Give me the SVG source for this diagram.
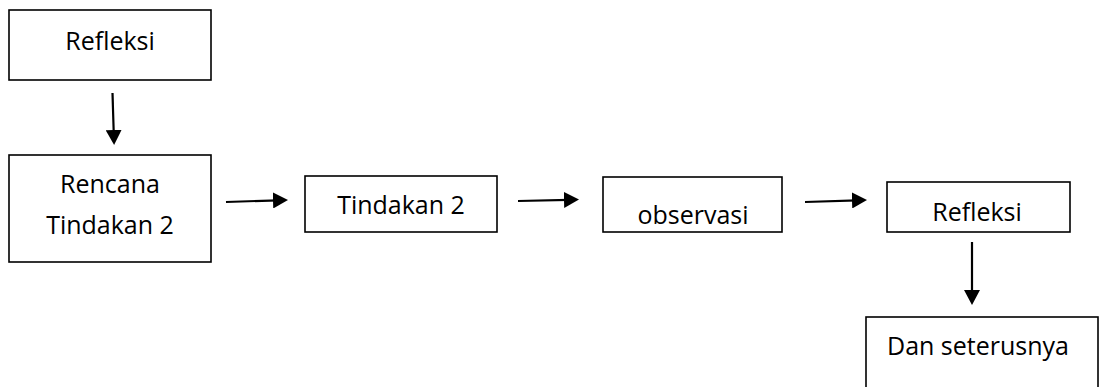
<svg xmlns="http://www.w3.org/2000/svg" width="1101" height="387" viewBox="0 0 1101 387">
<style>
.box{fill:#fff;stroke:#000;stroke-width:1.6}
.lbl{font-family:"Open Sans","Liberation Sans",sans-serif;font-size:25px;fill:#000;text-anchor:middle}
.conn{stroke:#000;stroke-width:2.2;fill:none;marker-end:url(#ah)}
</style>
<defs>
<marker id="ah" markerUnits="userSpaceOnUse" markerWidth="16" markerHeight="16" refX="5" refY="8" orient="auto" viewBox="0 0 16 16">
<path d="M0,0 L15,8 L0,16 Z" fill="#000"/>
</marker>
</defs>
<rect x="0" y="0" width="1101" height="387" fill="#fff"/>
<g id="node-refleksi1">
<rect class="box" x="9" y="10" width="202" height="70"/>
<text class="lbl" x="110" y="50">Refleksi</text>
</g>
<g id="node-rencana">
<rect class="box" x="9" y="155" width="202" height="107"/>
<text class="lbl" x="110" y="193">Rencana</text>
<text class="lbl" x="110" y="234">Tindakan 2</text>
</g>
<g id="node-tindakan">
<rect class="box" x="305" y="176" width="192" height="56"/>
<text class="lbl" x="401" y="214">Tindakan 2</text>
</g>
<g id="node-observasi">
<rect class="box" x="603" y="177" width="179" height="55"/>
<text class="lbl" x="693" y="224">observasi</text>
</g>
<g id="node-refleksi2">
<rect class="box" x="887" y="182" width="183" height="50"/>
<text class="lbl" x="977" y="221">Refleksi</text>
</g>
<g id="node-dan">
<rect class="box" x="866" y="317" width="232" height="80"/>
<text class="lbl" x="978" y="355">Dan seterusnya</text>
</g>
<g id="connectors">
<line class="conn" x1="112.5" y1="93" x2="113.8" y2="135"/>
<line class="conn" x1="226" y1="202" x2="278" y2="200.3"/>
<line class="conn" x1="518" y1="201" x2="569" y2="199.8"/>
<line class="conn" x1="805" y1="202" x2="857" y2="200.3"/>
<line class="conn" x1="972" y1="242" x2="972" y2="295"/>
</g>
</svg>
